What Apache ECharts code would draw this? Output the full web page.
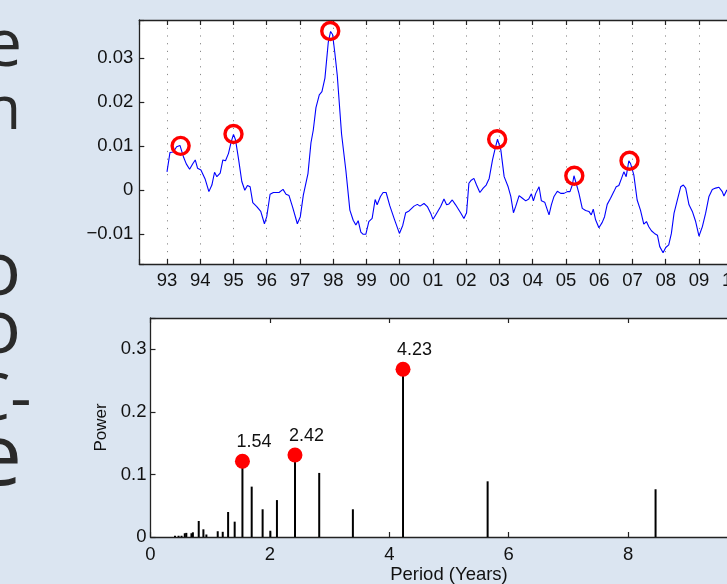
<!DOCTYPE html>
<html><head><meta charset="utf-8">
<script src="https://cdn.jsdelivr.net/npm/echarts@6/dist/echarts.min.js"></script>
<style>html,body{margin:0;padding:0;background:#dbe5f1;overflow:hidden}#c{width:727px;height:584px}</style>
</head><body><div id="c"></div>
<script>
// ---- top panel: time series (year, value) ----
const tsYears = [
1993.00,1993.09,1993.19,1993.29,1993.39,1993.45,1993.50,1993.58,1993.68,1993.78,1993.85,1993.92,
1994.02,1994.15,1994.26,1994.35,1994.43,1994.50,1994.60,1994.68,1994.76,1994.85,1994.93,
1995.00,1995.06,1995.15,1995.25,1995.34,1995.42,1995.50,1995.58,1995.70,1995.82,1995.93,
1996.00,1996.10,1996.20,1996.37,1996.49,1996.58,1996.67,1996.78,1996.92,
1997.01,1997.10,1997.24,1997.33,1997.40,1997.48,1997.58,1997.66,1997.75,1997.85,1997.92,1997.98,
1998.05,1998.12,1998.25,1998.38,1998.50,1998.60,1998.68,1998.75,1998.83,1998.90,1998.98,
1999.07,1999.17,1999.26,1999.32,1999.42,1999.50,1999.59,1999.70,1999.84,1999.99,
2000.09,2000.18,2000.28,2000.43,2000.53,2000.61,2000.73,2000.83,2000.93,
2001.00,2001.08,2001.23,2001.33,2001.41,2001.48,2001.58,2001.68,2001.83,2001.93,
2002.01,2002.08,2002.15,2002.23,2002.31,2002.41,2002.51,2002.60,2002.69,2002.79,2002.86,2002.94,
2003.04,2003.14,2003.26,2003.34,2003.42,2003.49,2003.59,2003.69,2003.79,2003.88,2003.96,
2004.02,2004.09,2004.19,2004.26,2004.36,2004.49,2004.56,2004.64,2004.74,2004.84,2004.94,
2005.04,2005.12,2005.19,2005.24,2005.32,2005.39,2005.49,2005.59,2005.69,2005.76,2005.82,2005.89,2005.99,
2006.09,2006.16,2006.24,2006.34,2006.44,2006.51,2006.59,2006.67,2006.74,2006.81,2006.89,2006.94,
2007.04,2007.14,2007.24,2007.34,2007.42,2007.49,2007.57,2007.66,2007.75,2007.82,2007.92,
2008.00,2008.09,2008.17,2008.25,2008.35,2008.45,2008.53,2008.60,2008.70,2008.80,2008.90,
2009.00,2009.10,2009.20,2009.30,2009.40,2009.50,2009.60,2009.70,2009.75,2009.84
];
const tsValues = [
0.0042,0.0086,0.0087,0.0099,0.0102,0.0099,0.0075,0.0060,0.0048,0.0061,0.0069,0.0050,
0.0046,0.0025,-0.0003,0.0012,0.0041,0.0031,0.0039,0.0069,0.0067,0.0084,0.0110,
0.0127,0.0115,0.0072,0.0020,0.0000,0.0011,0.0008,-0.0028,-0.0037,-0.0048,-0.0076,
-0.0060,-0.0009,-0.0005,-0.0005,0.0002,-0.0009,-0.0012,-0.0039,-0.0076,
-0.0060,-0.0011,0.0038,0.0108,0.0137,0.0188,0.0217,0.0224,0.0255,0.0336,0.0361,0.0354,
0.0311,0.0262,0.0128,0.0045,-0.0045,-0.0068,-0.0079,-0.0069,-0.0095,-0.0100,-0.0100,
-0.0071,-0.0064,-0.0021,-0.0033,-0.0014,-0.0005,-0.0005,-0.0035,-0.0066,-0.0098,
-0.0080,-0.0051,-0.0047,-0.0036,-0.0032,-0.0036,-0.0030,-0.0037,-0.0052,
-0.0066,-0.0056,-0.0037,-0.0020,-0.0033,-0.0031,-0.0022,-0.0033,-0.0051,-0.0064,
-0.0051,0.0016,0.0023,0.0027,0.0012,-0.0005,0.0005,0.0012,0.0027,0.0069,0.0092,0.0116,
0.0092,0.0031,0.0008,-0.0014,-0.0051,-0.0036,-0.0012,-0.0018,-0.0024,-0.0020,-0.0008,
-0.0024,-0.0007,0.0008,-0.0024,-0.0027,-0.0056,-0.0033,-0.0014,-0.0002,-0.0007,-0.0007,
-0.0003,-0.0003,0.0012,0.0033,0.0012,-0.0007,-0.0041,-0.0046,-0.0048,-0.0056,-0.0043,-0.0067,-0.0085,
-0.0073,-0.0060,-0.0032,-0.0018,-0.0003,0.0008,0.0011,0.0027,0.0042,0.0031,0.0067,0.0061,
0.0035,-0.0022,-0.0045,-0.0077,-0.0071,-0.0083,-0.0092,-0.0098,-0.0102,-0.0128,-0.0142,
-0.0130,-0.0124,-0.0098,-0.0052,-0.0022,0.0008,0.0012,0.0005,-0.0033,-0.0048,-0.0071,
-0.0104,-0.0083,-0.0052,-0.0014,0.0002,0.0005,0.0007,-0.0003,-0.0013,0.0001
];
const circleYears  = [1993.41, 1995.00, 1997.91, 2002.93, 2005.25, 2006.91];
const circleValues = [0.0101, 0.0128, 0.0362, 0.0116, 0.0033, 0.0067];

// ---- bottom panel: periodogram stems ----
const periods = [0.41,0.47,0.52,0.574,0.60,0.686,0.71,0.808,0.886,0.936,1.126,1.21,1.30,1.41,1.54,1.695,1.878,2.007,2.118,2.42,2.826,3.39,4.23,5.647,8.46];
const powers  = [0.002,0.002,0.002,0.006,0.0066,0.006,0.0075,0.0256,0.0123,0.004,0.0092,0.0083,0.040,0.0245,0.121,0.0805,0.0443,0.010,0.059,0.131,0.1024,0.0443,0.268,0.089,0.0763];
const peakPeriods = [1.54, 2.42, 4.23];
const peakPowers  = [0.121, 0.131, 0.268];

// ---- clipped slide text at the left edge ----
const slideTexts = ['e', 'n', 'o', 'o', 'C-', 'e'];
const slideSizes = [66, 60, 75, 75, 66, 86];
const slideX = [22, 21, 21, 21, 31.5, 22];
const slideY = [47, 112, 274, 332, 401, 460];

const FONT = "'Liberation Sans', Arial, Helvetica, sans-serif";
const INK = '#111';
const AX = '#222';

const tsData = tsYears.map((y, i) => [y, tsValues[i]]);
const circleData = circleYears.map((y, i) => [y, circleValues[i]]);
const stemData = periods.map((p, i) => [p, powers[i]]);
const peakData = peakPeriods.map((p, i) => [p, peakPowers[i]]);

const isMult = (v, step) => Math.abs(v / step - Math.round(v / step)) < 1e-6;

const chart = echarts.init(document.getElementById('c'), null, {renderer: 'canvas'});
chart.setOption({
  animation: false,
  backgroundColor: '#dbe5f1',
  textStyle: {fontFamily: FONT},
  graphic: slideTexts.map((t, i) => ({
    type: 'text', x: slideX[i], y: slideY[i], silent: true,
    style: {text: t, fill: '#2a2a2a', font: slideSizes[i] + "px 'Open Sans', 'DejaVu Sans', sans-serif",
            textAlign: 'right', textVerticalAlign: 'middle'}
  })),
  grid: [
    {left: 139.3, top: 20, width: 621, height: 244, show: true, backgroundColor: '#fff', borderWidth: 0,
     containLabel: false, outerBoundsMode: 'none'},
    {left: 150.5, top: 318, width: 597, height: 219, show: true, backgroundColor: '#fff', borderWidth: 0,
     containLabel: false, outerBoundsMode: 'none'}
  ],
  xAxis: [
    {type: 'value', gridIndex: 0, position: 'bottom', min: 1992.167, max: 2010.844,
     minInterval: 1, maxInterval: 1, splitNumber: 18,
     axisLine: {show: true, onZero: false, lineStyle: {color: AX, width: 1.3}},
     axisTick: {show: true, inside: true, length: 5, lineStyle: {color: AX, width: 1.2}},
     axisLabel: {margin: 7, fontSize: 18.5, color: INK, fontFamily: FONT, hideOverlap: false,
       formatter: v => isMult(v, 1) ? String(Math.round(v) % 100).padStart(2, '0') : ''},
     splitLine: {show: true, lineStyle: {color: '#8a8a8a', width: 1, type: [1.2, 6.5]}}},
    {type: 'value', gridIndex: 0, position: 'top', min: 1992.167, max: 2010.844,
     minInterval: 1, maxInterval: 1, splitNumber: 18,
     axisLine: {show: true, onZero: false, lineStyle: {color: AX, width: 1.3}},
     axisTick: {show: true, inside: true, length: 5, lineStyle: {color: AX, width: 1.2}},
     axisLabel: {show: false}, splitLine: {show: false}},
    {type: 'value', gridIndex: 1, position: 'bottom', min: 0, max: 10, interval: 2,
     name: 'Period (Years)', nameLocation: 'middle', nameGap: 28,
     nameTextStyle: {fontSize: 18.5, color: INK, fontFamily: FONT},
     axisLine: {show: true, onZero: false, lineStyle: {color: AX, width: 1.3}},
     axisTick: {show: true, inside: true, length: 5, lineStyle: {color: AX, width: 1.2}},
     axisLabel: {margin: 8, fontSize: 18.5, color: INK, fontFamily: FONT,
       formatter: v => isMult(v, 2) ? String(Math.round(v)) : ''},
     splitLine: {show: false}},
    {type: 'value', gridIndex: 1, position: 'top', min: 0, max: 10, interval: 2,
     axisLine: {show: true, onZero: false, lineStyle: {color: AX, width: 1.3}},
     axisTick: {show: true, inside: true, length: 5, lineStyle: {color: AX, width: 1.2}},
     axisLabel: {show: false}, splitLine: {show: false}}
  ],
  yAxis: [
    {type: 'value', gridIndex: 0, min: -0.01675, max: 0.0387, minInterval: 0.01, maxInterval: 0.01, splitNumber: 5,
     axisLine: {show: true, onZero: false, lineStyle: {color: AX, width: 1.3}},
     axisTick: {show: true, inside: true, length: 5, lineStyle: {color: AX, width: 1.2}},
     axisLabel: {margin: 6, fontSize: 18.5, color: INK, fontFamily: FONT,
       formatter: v => {
         if (!isMult(v, 0.01)) return '';
         const n = Math.round(v * 100);
         if (n === 0) return '0';
         return (n < 0 ? '\u2212' : '') + (Math.abs(n) / 100).toFixed(2);
       }},
     splitLine: {show: false}},
    {type: 'value', gridIndex: 1, min: 0, max: 0.35, interval: 0.1,
     name: 'Power', nameLocation: 'middle', nameGap: 40, nameRotate: 90,
     nameTextStyle: {fontSize: 17, color: INK, fontFamily: FONT},
     axisLine: {show: true, onZero: false, lineStyle: {color: AX, width: 1.3}},
     axisTick: {show: true, inside: true, length: 5, lineStyle: {color: AX, width: 1.2}},
     axisLabel: {margin: 4, fontSize: 18.5, color: INK, fontFamily: FONT,
       formatter: v => {
         if (!isMult(v, 0.1)) return '';
         const n = Math.round(v * 10);
         return n === 0 ? '0' : (n / 10).toFixed(1);
       }},
     splitLine: {show: false}}
  ],
  series: [
    {type: 'line', xAxisIndex: 0, yAxisIndex: 0, data: tsData, showSymbol: false, symbol: 'none',
     lineStyle: {color: '#0000ff', width: 1.1}, z: 2},
    {type: 'scatter', xAxisIndex: 0, yAxisIndex: 0, data: circleData, symbol: 'circle', symbolSize: 17,
     itemStyle: {color: 'rgba(255,255,255,0)', borderColor: '#ff0000', borderWidth: 3.4, opacity: 1}, z: 3},
    {type: 'custom', xAxisIndex: 2, yAxisIndex: 1, data: stemData, z: 2,
     renderItem: (params, api) => {
       const p0 = api.coord([api.value(0), 0]);
       const p1 = api.coord([api.value(0), api.value(1)]);
       return {type: 'line', shape: {x1: p0[0], y1: p0[1], x2: p1[0], y2: p1[1]},
               style: {stroke: '#000', lineWidth: 2}};
     }},
    {type: 'scatter', xAxisIndex: 2, yAxisIndex: 1, data: peakData, symbol: 'circle', symbolSize: 15,
     itemStyle: {color: '#ff0000', opacity: 1}, z: 3,
     label: {show: true, position: 'top', distance: 3, align: 'left', offset: [-6, 0],
             fontSize: 18, color: INK, fontFamily: FONT,
             formatter: p => p.value[0].toFixed(2)}}
  ]
});
</script>
</body></html>
